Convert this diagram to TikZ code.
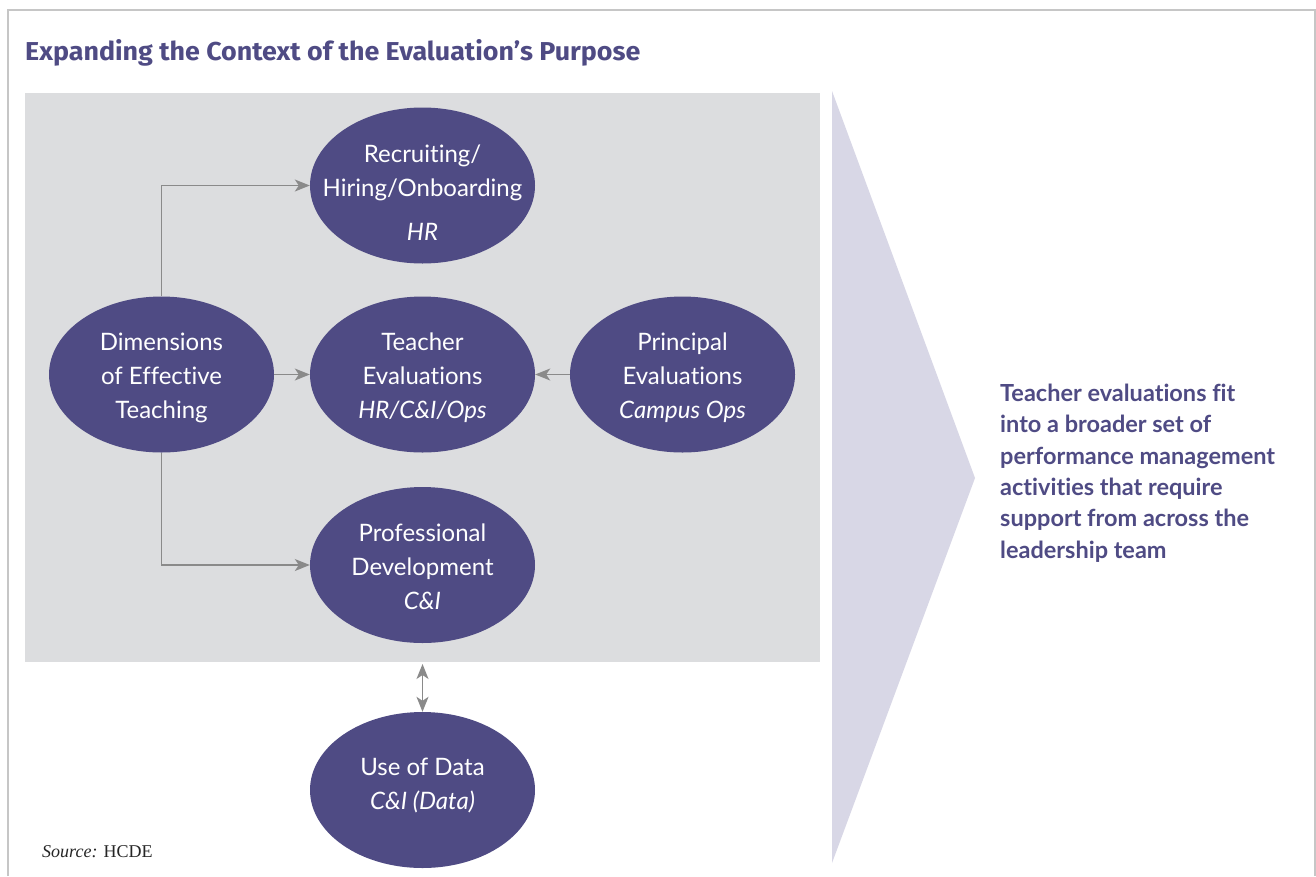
\documentclass[tikz,border=0pt]{standalone}
\usepackage{fontspec}
\setmainfont{Lato}[Ligatures=NoCommon]
\newfontfamily\titlefont{Fira Sans}
\newfontfamily\srcfont{Liberation Serif}
\usetikzlibrary{shapes.geometric,arrows.meta}
\definecolor{pur}{HTML}{4F4B84}
\definecolor{boxgray}{HTML}{DCDDDF}
\definecolor{trifill}{HTML}{D8D7E6}
\definecolor{arrgray}{HTML}{8A8A8A}
\definecolor{framegray}{HTML}{C6C6C6}
\tikzset{
  ell/.style={ellipse, fill=pur, minimum width=225pt, minimum height=156pt, inner sep=0pt},
  lbl/.style={anchor=north, inner sep=0pt, align=center, text=white, font=\fontsize{24}{34}\selectfont},
  arr/.style={draw=arrgray, line width=1.3pt, -{Stealth[length=15pt,width=12pt,inset=4pt]}},
  darr/.style={draw=arrgray, line width=1.3pt, {Stealth[length=15pt,width=12pt,inset=4pt]}-{Stealth[length=15pt,width=12pt,inset=4pt]}},
}
\begin{document}
\begin{tikzpicture}[x=1pt,y=-1pt]
\useasboundingbox (0,0) rectangle (1316,876);
\fill[white] (0,0) rectangle (1316,876);
\draw[framegray, line width=1.2pt] (8,876) -- (8,10) -- (1315,10) -- (1315,876);
\fill[boxgray] (25,93) rectangle (820,662);
\fill[trifill] (832,91) -- (975,478) -- (832,863) -- cycle;
\node[anchor=base west, inner sep=0pt, text=pur] (title) at (25,60)
  {\resizebox{615pt}{21pt}{\titlefont\bfseries Expanding the Context of the Evaluation’s Purpose}};
% ellipses
\node[ell] (rec) at (422.5,185.5) {};
\node[ell] (dim) at (161.5,374.5) {};
\node[ell] (tea) at (422.5,374.5) {};
\node[ell] (pri) at (682.5,374.5) {};
\node[ell] (pro) at (422.5,565) {};
\node[ell] (use) at (422.5,790) {};
% labels
\node[lbl] (recT) at (422.5,140) {\rule{0pt}{22pt}Recruiting/\\Hiring/Onboarding\\[10pt]\textit{HR}};
\node[lbl] (dimT) at (161.5,328) {\rule{0pt}{22pt}Dimensions\\of Effective\\Teaching};
\node[lbl] (teaT) at (422.5,328) {\rule{0pt}{22pt}Teacher\\Evaluations\\\textit{HR/C\&I/Ops}};
\node[lbl] (priT) at (682.5,328) {\rule{0pt}{22pt}Principal\\Evaluations\\\textit{Campus Ops}};
\node[lbl] (proT) at (422.5,519) {\rule{0pt}{22pt}Professional\\Development\\\textit{C\&I}};
\node[lbl] (useT) at (422.5,753) {\rule{0pt}{22pt}Use of Data\\\textit{C\&I (Data)}};
% connectors
\draw[arr] (dim.north) |- (rec.west);
\draw[arr] (dim.east) -- (tea.west);
\draw[arr] (pri.west) -- (tea.east);
\draw[arr] (dim.south) |- (pro.west);
\coordinate (boxbot) at (422.5,664);
\draw[darr] (boxbot) -- (use.north);
% right note
\node[anchor=north west, inner sep=0pt, align=left, text=pur, font=\fontsize{23.5}{31.4}\selectfont\bfseries] (note) at (1000,379)
  {\rule{0pt}{22pt}Teacher evaluations fit\\into a broader set of\\performance management\\activities that require\\support from across the\\leadership team};
% source
\node[anchor=base west, inner sep=0pt, text=black!85, font=\srcfont\fontsize{18}{20}\selectfont] (src) at (42,857) {\textit{Source:} HCDE};
\end{tikzpicture}
\end{document}
